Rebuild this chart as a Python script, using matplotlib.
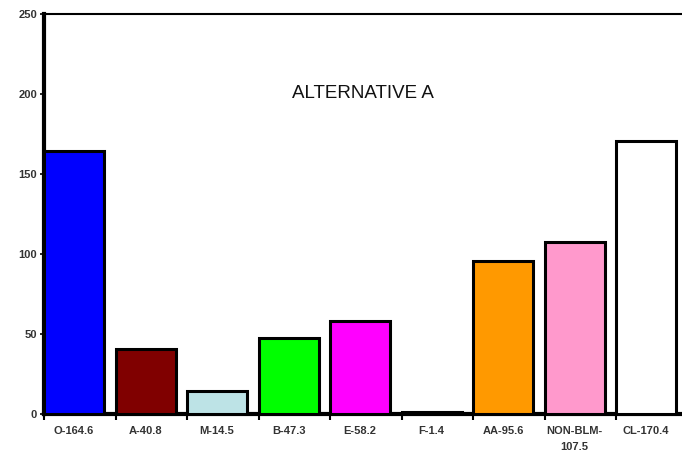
import matplotlib
matplotlib.use("Agg")
import matplotlib.pyplot as plt
import numpy as np

plt.rcParams["font.family"] = ["Liberation Sans", "DejaVu Sans"]

# bar values per category
categories = ["O-164.6", "A-40.8", "M-14.5", "B-47.3", "E-58.2", "F-1.4",
              "AA-95.6", "NON-BLM-\n107.5", "CL-170.4"]
values = [164.6, 40.8, 14.5, 47.3, 58.2, 1.4, 95.6, 107.5, 170.4]
colors = ["#0000ff", "#800000", "#bde3e6", "#00ff00", "#ff00ff", "#222222",
          "#ff9900", "#ff99cc", "#ffffff"]
yticks = [0, 50, 100, 150, 200, 250]

fig = plt.figure(figsize=(6.82, 4.57), dpi=100)
ax = fig.add_axes([44 / 682, 43 / 457, 1 - 44 / 682, 400 / 457])

x = np.arange(len(values))
barw = 0.84
ax.bar(x, values, width=barw, align="edge", color=colors,
       edgecolor="black", linewidth=2.2, zorder=3)

ax.set_xlim(0, 8.92)
ax.set_ylim(0, 250)

# tick marks on slot boundaries, labels centred under bars
ax.set_xticks(x)
ax.set_xticklabels([])
ax.tick_params(axis="x", which="major", length=4, width=1.5, direction="out")
ax.set_xticks(x + barw / 2, minor=True)
ax.set_xticklabels(categories, minor=True, fontsize=8, fontweight="bold",
                   color="#333333", linespacing=1.75)
ax.tick_params(axis="x", which="minor", length=0, pad=9)

ax.set_yticks(yticks)
ax.set_yticklabels([str(t) for t in yticks], fontsize=8, fontweight="bold",
                   color="#333333")
ax.tick_params(axis="y", length=3, width=1.2, pad=2)

ax.spines["left"].set_linewidth(3)
ax.spines["bottom"].set_linewidth(3)
ax.spines["top"].set_linewidth(1.5)
ax.spines["right"].set_visible(False)

ax.text(0.5, 0.8, "ALTERNATIVE A", transform=ax.transAxes,
        ha="center", va="center", fontsize=13.5, color="#111111")

fig.savefig("out.png", dpi=100)
